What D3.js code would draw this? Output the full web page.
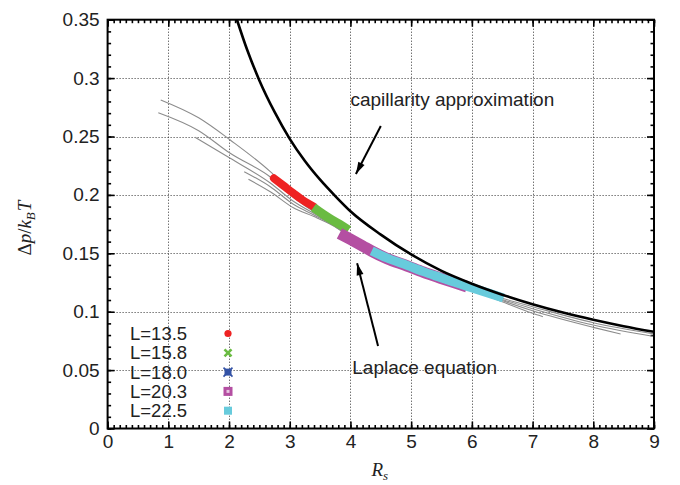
<!DOCTYPE html>
<html>
<head>
<meta charset="utf-8">
<script src="https://cdn.jsdelivr.net/npm/d3@7"></script>
<style>
  html, body { margin: 0; padding: 0; background: #fff; }
  svg { display: block; }
  .tick text { font-family: "Liberation Sans", Arial, Helvetica, sans-serif; font-size: 19px; fill: #222; }
  .domain { display: none; }
</style>
</head>
<body>
<svg id="chart" width="680" height="485"></svg>
<script>
// ---- data ----
const xTicks = [0, 1, 2, 3, 4, 5, 6, 7, 8, 9];
const yTicks = [0, 0.05, 0.1, 0.15, 0.2, 0.25, 0.3, 0.35];
const yTickLabels = ["0", "0.05", "0.1", "0.15", "0.2", "0.25", "0.3", "0.35"];

// capillarity approximation (thick black curve)
const capR  = [2.13, 2.3, 2.5, 2.75, 3.0, 3.25, 3.5, 3.75, 4.0, 4.5, 5.0, 5.5, 6.0, 6.5, 7.0, 7.5, 8.0, 8.5, 9.0];
const capDp = [0.350, 0.324, 0.298, 0.271, 0.248, 0.229, 0.213, 0.199, 0.186, 0.166, 0.149, 0.135, 0.124, 0.1146, 0.1064, 0.0993, 0.0931, 0.0876, 0.0828];

// Laplace equation curves (thin grey)
const laplace1 = [[0.875,0.2813],[1.5,0.2660],[2.02,0.2470],[2.68,0.2199],[3.06,0.2005],[3.4,0.1870],[3.7,0.1765],[4.0,0.1660],[4.5,0.1520],[5.0,0.1395],[5.5,0.1290],[6.0,0.1200],[6.5,0.1115],[7.0,0.1043],[8.0,0.0906],[9.0,0.0810]];
const laplace2 = [[0.835,0.2704],[1.5,0.2550],[2.02,0.2356],[2.68,0.2153],[3.06,0.1980],[3.4,0.1855],[3.7,0.1758],[4.0,0.1655],[4.5,0.1515],[5.0,0.1390],[5.5,0.1285],[6.0,0.1195],[6.5,0.1105],[7.0,0.1026],[8.0,0.0886],[9.0,0.0787]];
const laplace3 = [[1.44,0.2493],[2.02,0.2313],[2.68,0.2102],[3.06,0.1945],[3.4,0.1840],[3.7,0.1750],[4.0,0.1650],[4.5,0.1510],[5.0,0.1385],[5.5,0.1280],[6.0,0.1190],[6.5,0.1095],[7.0,0.1008],[8.0,0.0866],[8.45,0.0809]];
const laplace4 = [[2.25,0.2199],[2.68,0.2070],[3.06,0.1920],[3.4,0.1828],[3.7,0.1745],[4.0,0.1645],[4.5,0.1505],[5.0,0.1380],[5.5,0.1275],[6.0,0.1185],[6.5,0.1085],[7.0,0.0986],[7.17,0.0957]];
const laplace5 = [[2.32,0.2134],[2.68,0.2027],[3.06,0.1890],[3.4,0.1815],[3.7,0.1740],[4.0,0.1640],[4.5,0.1500],[5.0,0.1375],[5.5,0.1275],[6.0,0.1185],[6.3,0.1140]];
const laplaceCurves = [laplace1, laplace2, laplace3, laplace4, laplace5];

// simulation data, one array per box size L
const seriesNames = ["L=13.5", "L=15.8", "L=18.0", "L=20.3", "L=22.5"];
const seriesColors = ["#ee2222", "#6abb42", "#3453a6", "#b44fa2", "#67cbdc"];
const dataL135 = [[2.74,0.2142],[2.9,0.2078],[3.06,0.2014],[3.2,0.1960],[3.39,0.1900]];
const dataL158 = [[3.39,0.1893],[3.55,0.1835],[3.7,0.1785],[3.85,0.1740],[3.97,0.1700]];
const dataL180 = [[3.95,0.1625],[4.3,0.1530],[4.7,0.1445],[5.1,0.1365],[5.5,0.1285]];
const dataL203 = [[3.82,0.1670],[4.0,0.1620],[4.2,0.1563],[4.35,0.1519],[4.6,0.1456],[4.93,0.1393],[5.2,0.1339],[5.48,0.1289],[5.7,0.1251],[5.92,0.1214]];
const dataL225 = [[4.35,0.1521],[4.6,0.1460],[4.93,0.1397],[5.2,0.1343],[5.48,0.1293],[5.75,0.1245],[6.03,0.1200],[6.3,0.1155],[6.52,0.1117]];
const seriesData = [dataL135, dataL158, dataL180, dataL203, dataL225];
const bandWidths = [8, 9, 7, 11.5, 9];

// annotations (data coordinates)
const capLabel = { text: "capillarity approximation", R: 4.0, dp: 0.276 };
const capArrow = { from: [4.5, 0.259], to: [4.09, 0.2179] };
const lapLabel = { text: "Laplace equation", R: 4.03, dp: 0.0465 };
const lapArrow = { from: [4.455, 0.0706], to: [4.11, 0.1414] };

// ---- layout ----
const svg = d3.select("#chart");
const plotLeft = 107.6, plotRight = 654, plotTop = 19.7, plotBottom = 428.5;
const x = d3.scaleLinear().domain([0, 9]).range([plotLeft, plotRight]);
const y = d3.scaleLinear().domain([0, 0.35]).range([plotBottom, plotTop]);

const defs = svg.append("defs");
defs.append("clipPath").attr("id", "plotclip")
  .append("rect").attr("x", plotLeft).attr("y", plotTop)
  .attr("width", plotRight - plotLeft).attr("height", plotBottom - plotTop);
defs.append("marker").attr("id", "arrowhead")
  .attr("viewBox", "0 0 12 8").attr("refX", 12).attr("refY", 4)
  .attr("markerWidth", 13).attr("markerHeight", 8).attr("markerUnits", "userSpaceOnUse")
  .attr("orient", "auto")
  .append("path").attr("d", "M0,0.5 L12,4 L0,7.5 Z").attr("fill", "#000");

// grid
const grid = svg.append("g").attr("stroke", "#333").attr("stroke-width", 1).attr("stroke-dasharray", "1,2");
grid.selectAll("line.gx").data(xTicks.slice(1, -1)).join("line")
  .attr("x1", d => Math.round(x(d)) + 0.5).attr("x2", d => Math.round(x(d)) + 0.5)
  .attr("y1", plotTop).attr("y2", plotBottom);
grid.selectAll("line.gy").data(yTicks.slice(1, -1)).join("line")
  .attr("y1", d => Math.round(y(d)) + 0.5).attr("y2", d => Math.round(y(d)) + 0.5)
  .attr("x1", plotLeft).attr("x2", plotRight);

// axes with inward ticks on all four sides
const xMinor = d3.range(0, 90.5, 1).map(v => v / 10);
const yMinor = d3.range(0, 35.5, 1).map(v => v / 100);
function addAxis(gen, tx, ty) {
  return svg.append("g").attr("transform", `translate(${tx},${ty})`).call(gen);
}
addAxis(d3.axisBottom(x).tickValues(xMinor).tickFormat("").tickSize(-3.5), 0, plotBottom);
addAxis(d3.axisTop(x).tickValues(xMinor).tickFormat("").tickSize(-3.5), 0, plotTop);
addAxis(d3.axisLeft(y).tickValues(yMinor).tickFormat("").tickSize(-3.5), plotLeft, 0);
addAxis(d3.axisRight(y).tickValues(yMinor).tickFormat("").tickSize(-3.5), plotRight, 0);
addAxis(d3.axisBottom(x).tickValues(xTicks).tickFormat(d3.format("d")).tickSize(-7).tickPadding(6), 0, plotBottom);
addAxis(d3.axisTop(x).tickValues(xTicks).tickFormat("").tickSize(-7), 0, plotTop);
addAxis(d3.axisLeft(y).tickValues(yTicks).tickFormat((d, i) => yTickLabels[i]).tickSize(-7).tickPadding(8), plotLeft, 0);
addAxis(d3.axisRight(y).tickValues(yTicks).tickFormat("").tickSize(-7), plotRight, 0);
svg.selectAll(".tick line").attr("stroke", "#000").attr("stroke-width", 1.6);

// plot contents
const plot = svg.append("g").attr("clip-path", "url(#plotclip)");
const line = d3.line().x(d => x(d[0])).y(d => y(d[1])).curve(d3.curveMonotoneX);

plot.selectAll("path.laplace").data(laplaceCurves).join("path")
  .attr("class", "laplace")
  .attr("d", line).attr("fill", "none").attr("stroke", "#8c8c8c").attr("stroke-width", 1.1);

plot.selectAll("path.band").data(seriesData).join("path")
  .attr("class", "band")
  .attr("d", line).attr("fill", "none")
  .attr("stroke", (d, i) => seriesColors[i])
  .attr("stroke-width", (d, i) => bandWidths[i])
  .attr("stroke-linecap", (d, i) => i === 0 ? "round" : "butt");

const capPts = capR.map((r, i) => [r, capDp[i]]);
plot.append("path").attr("d", line(capPts))
  .attr("fill", "none").attr("stroke", "#000").attr("stroke-width", 2.6);

// frame
svg.append("rect").attr("x", plotLeft).attr("y", plotTop)
  .attr("width", plotRight - plotLeft).attr("height", plotBottom - plotTop)
  .attr("fill", "none").attr("stroke", "#000").attr("stroke-width", 2);

// annotations
const labelFont = '"Liberation Sans", Arial, Helvetica, sans-serif';
svg.append("text").attr("x", x(capLabel.R)).attr("y", y(capLabel.dp))
  .attr("font-family", labelFont).attr("font-size", 19).attr("fill", "#222").text(capLabel.text);
svg.append("line")
  .attr("x1", x(capArrow.from[0])).attr("y1", y(capArrow.from[1]))
  .attr("x2", x(capArrow.to[0])).attr("y2", y(capArrow.to[1]))
  .attr("stroke", "#000").attr("stroke-width", 2).attr("marker-end", "url(#arrowhead)");
svg.append("text").attr("x", x(lapLabel.R)).attr("y", y(lapLabel.dp))
  .attr("font-family", labelFont).attr("font-size", 19).attr("fill", "#222").text(lapLabel.text);
svg.append("line")
  .attr("x1", x(lapArrow.from[0])).attr("y1", y(lapArrow.from[1]))
  .attr("x2", x(lapArrow.to[0])).attr("y2", y(lapArrow.to[1]))
  .attr("stroke", "#000").attr("stroke-width", 2).attr("marker-end", "url(#arrowhead)");

// legend
const legend = svg.append("g");
const legY0 = 333.5, legDy = 19.3, legTextX = 130, legMarkX = 228;
seriesNames.forEach((name, i) => {
  const cy = legY0 + i * legDy;
  legend.append("text").attr("x", legTextX).attr("y", cy + 6.5)
    .attr("font-family", labelFont).attr("font-size", 18.5).attr("fill", "#222").text(name);
  const c = seriesColors[i];
  const m = legend.append("g").attr("transform", `translate(${legMarkX},${cy})`);
  if (i === 0) {
    m.append("circle").attr("r", 3.6).attr("fill", c);
  } else if (i === 1) {
    m.append("path").attr("d", "M-3.5,-3.5L3.5,3.5M-3.5,3.5L3.5,-3.5").attr("stroke", c).attr("stroke-width", 2.6);
  } else if (i === 2) {
    m.append("rect").attr("x", -3.5).attr("y", -3.5).attr("width", 7).attr("height", 7).attr("fill", c);
    m.append("path").attr("d", "M-4.5,-4.5L4.5,4.5M-4.5,4.5L4.5,-4.5").attr("stroke", c).attr("stroke-width", 1.6);
  } else if (i === 3) {
    m.append("rect").attr("x", -4.5).attr("y", -4.5).attr("width", 9).attr("height", 9).attr("fill", c);
    m.append("rect").attr("x", -1.5).attr("y", -1.5).attr("width", 3).attr("height", 3).attr("fill", "#e6c6e0");
  } else {
    m.append("rect").attr("x", -4).attr("y", -4).attr("width", 8).attr("height", 8).attr("fill", c);
  }
});

// axis titles
const mathFont = '"Liberation Serif", "DejaVu Serif", "Times New Roman", serif';
const yTitle = svg.append("text")
  .attr("transform", `translate(31,${(plotTop + plotBottom) / 2 + 4}) rotate(-90)`)
  .attr("text-anchor", "middle").attr("font-family", mathFont).attr("font-size", 19).attr("fill", "#222");
yTitle.append("tspan").text("Δ");
yTitle.append("tspan").attr("font-style", "italic").text("p");
yTitle.append("tspan").text("/");
yTitle.append("tspan").attr("font-style", "italic").text("k");
yTitle.append("tspan").attr("font-style", "italic").attr("font-size", 13).attr("dy", 4).text("B");
yTitle.append("tspan").attr("font-style", "italic").attr("dy", -4).attr("dx", 1).text("T");

const xTitle = svg.append("text")
  .attr("x", x(4.5) - 1).attr("y", 476)
  .attr("text-anchor", "middle").attr("font-family", mathFont).attr("font-size", 19).attr("fill", "#222");
xTitle.append("tspan").attr("font-style", "italic").text("R");
xTitle.append("tspan").attr("font-style", "italic").attr("font-size", 13).attr("dy", 3.5).text("s");
</script>
</body>
</html>
